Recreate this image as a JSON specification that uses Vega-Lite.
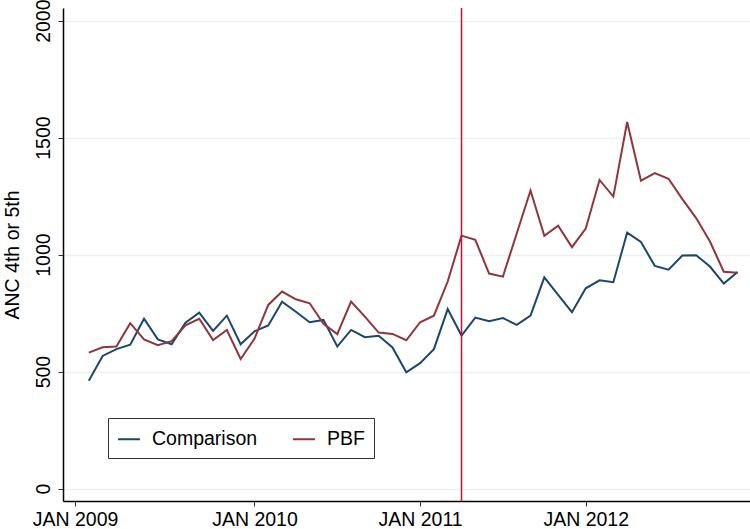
{
  "$schema": "https://vega.github.io/schema/vega-lite/v6.json",
  "width": 687,
  "height": 493,
  "autosize": {"type": "none"},
  "padding": {"left": 63, "top": 8, "right": 0, "bottom": 28},
  "background": "white",
  "config": {"view": {"stroke": null}, "font": "Liberation Sans"},
  "datasets": {
    "series": [
      {"month": 0, "group": "Comparison", "anc": 461}, {"month": 0, "group": "PBF", "anc": 581},
      {"month": 1, "group": "Comparison", "anc": 567}, {"month": 1, "group": "PBF", "anc": 604},
      {"month": 2, "group": "Comparison", "anc": 596}, {"month": 2, "group": "PBF", "anc": 607},
      {"month": 3, "group": "Comparison", "anc": 615}, {"month": 3, "group": "PBF", "anc": 707},
      {"month": 4, "group": "Comparison", "anc": 726}, {"month": 4, "group": "PBF", "anc": 638},
      {"month": 5, "group": "Comparison", "anc": 638}, {"month": 5, "group": "PBF", "anc": 613},
      {"month": 6, "group": "Comparison", "anc": 617}, {"month": 6, "group": "PBF", "anc": 630},
      {"month": 7, "group": "Comparison", "anc": 709}, {"month": 7, "group": "PBF", "anc": 698},
      {"month": 8, "group": "Comparison", "anc": 752}, {"month": 8, "group": "PBF", "anc": 726},
      {"month": 9, "group": "Comparison", "anc": 674}, {"month": 9, "group": "PBF", "anc": 635},
      {"month": 10, "group": "Comparison", "anc": 739}, {"month": 10, "group": "PBF", "anc": 678},
      {"month": 11, "group": "Comparison", "anc": 617}, {"month": 11, "group": "PBF", "anc": 554},
      {"month": 12, "group": "Comparison", "anc": 672}, {"month": 12, "group": "PBF", "anc": 640},
      {"month": 13, "group": "Comparison", "anc": 697}, {"month": 13, "group": "PBF", "anc": 785},
      {"month": 14, "group": "Comparison", "anc": 799}, {"month": 14, "group": "PBF", "anc": 842},
      {"month": 15, "group": "Comparison", "anc": 756}, {"month": 15, "group": "PBF", "anc": 809},
      {"month": 16, "group": "Comparison", "anc": 711}, {"month": 16, "group": "PBF", "anc": 792},
      {"month": 17, "group": "Comparison", "anc": 721}, {"month": 17, "group": "PBF", "anc": 704},
      {"month": 18, "group": "Comparison", "anc": 607}, {"month": 18, "group": "PBF", "anc": 660},
      {"month": 19, "group": "Comparison", "anc": 678}, {"month": 19, "group": "PBF", "anc": 799},
      {"month": 20, "group": "Comparison", "anc": 647}, {"month": 20, "group": "PBF", "anc": 735},
      {"month": 21, "group": "Comparison", "anc": 653}, {"month": 21, "group": "PBF", "anc": 667},
      {"month": 22, "group": "Comparison", "anc": 603}, {"month": 22, "group": "PBF", "anc": 661},
      {"month": 23, "group": "Comparison", "anc": 497}, {"month": 23, "group": "PBF", "anc": 634},
      {"month": 24, "group": "Comparison", "anc": 536}, {"month": 24, "group": "PBF", "anc": 711},
      {"month": 25, "group": "Comparison", "anc": 596}, {"month": 25, "group": "PBF", "anc": 739},
      {"month": 26, "group": "Comparison", "anc": 767}, {"month": 26, "group": "PBF", "anc": 885},
      {"month": 27, "group": "Comparison", "anc": 654}, {"month": 27, "group": "PBF", "anc": 1081},
      {"month": 28, "group": "Comparison", "anc": 731}, {"month": 28, "group": "PBF", "anc": 1063},
      {"month": 29, "group": "Comparison", "anc": 715}, {"month": 29, "group": "PBF", "anc": 919},
      {"month": 30, "group": "Comparison", "anc": 729}, {"month": 30, "group": "PBF", "anc": 906},
      {"month": 31, "group": "Comparison", "anc": 700}, {"month": 31, "group": "PBF", "anc": 1090},
      {"month": 32, "group": "Comparison", "anc": 739}, {"month": 32, "group": "PBF", "anc": 1274},
      {"month": 33, "group": "Comparison", "anc": 903}, {"month": 33, "group": "PBF", "anc": 1080},
      {"month": 34, "group": "Comparison", "anc": 828}, {"month": 34, "group": "PBF", "anc": 1124},
      {"month": 35, "group": "Comparison", "anc": 754}, {"month": 35, "group": "PBF", "anc": 1032},
      {"month": 36, "group": "Comparison", "anc": 856}, {"month": 36, "group": "PBF", "anc": 1111},
      {"month": 37, "group": "Comparison", "anc": 890}, {"month": 37, "group": "PBF", "anc": 1319},
      {"month": 38, "group": "Comparison", "anc": 882}, {"month": 38, "group": "PBF", "anc": 1248},
      {"month": 39, "group": "Comparison", "anc": 1094}, {"month": 39, "group": "PBF", "anc": 1567},
      {"month": 40, "group": "Comparison", "anc": 1054}, {"month": 40, "group": "PBF", "anc": 1316},
      {"month": 41, "group": "Comparison", "anc": 952}, {"month": 41, "group": "PBF", "anc": 1348},
      {"month": 42, "group": "Comparison", "anc": 936}, {"month": 42, "group": "PBF", "anc": 1324},
      {"month": 43, "group": "Comparison", "anc": 996}, {"month": 43, "group": "PBF", "anc": 1237},
      {"month": 44, "group": "Comparison", "anc": 997}, {"month": 44, "group": "PBF", "anc": 1156},
      {"month": 45, "group": "Comparison", "anc": 949}, {"month": 45, "group": "PBF", "anc": 1056},
      {"month": 46, "group": "Comparison", "anc": 876}, {"month": 46, "group": "PBF", "anc": 927},
      {"month": 47, "group": "Comparison", "anc": 926}, {"month": 47, "group": "PBF", "anc": 922}
    ],
    "intervention": [{"month": 27}]
  },
  "layer": [
    {
      "data": {"name": "series"},
      "mark": {"type": "line", "strokeWidth": 2},
      "encoding": {
        "x": {
          "field": "month", "type": "quantitative",
          "scale": {"domain": [-1.87, 47.9], "nice": false, "zero": false},
          "axis": {
            "title": null, "grid": false, "values": [-1, 12, 24, 36],
            "labelExpr": "datum.value == -1 ? 'JAN 2009' : datum.value == 12 ? 'JAN 2010' : datum.value == 24 ? 'JAN 2011' : 'JAN 2012'",
            "labelFontSize": 19.5, "labelColor": "#000", "labelPadding": 4,
            "domainColor": "#000", "domainWidth": 1.5, "tickColor": "#333", "tickSize": 5, "labelFlush": false
          }
        },
        "y": {
          "field": "anc", "type": "quantitative",
          "scale": {"domain": [-53, 2054], "nice": false, "zero": false},
          "axis": {
            "title": "ANC 4th or 5th", "titleFontSize": 19.5, "titleFontWeight": "normal", "titleColor": "#000", "titlePadding": 11,
            "values": [0, 500, 1000, 1500, 2000], "format": "d", "labelAngle": -90, "labelFontSize": 19.5, "labelColor": "#000", "labelPadding": 5,
            "domainColor": "#000", "domainWidth": 1.5, "tickColor": "#333", "tickSize": 5,
            "grid": true, "gridColor": "#eaf2f3", "gridWidth": 1.5
          }
        },
        "color": {
          "field": "group", "type": "nominal",
          "scale": {"domain": ["Comparison", "PBF"], "range": ["#1a476f", "#90353b"]},
          "legend": {
            "orient": "none", "legendX": 45, "legendY": 410, "direction": "horizontal", "title": null,
            "symbolType": "stroke", "symbolSize": 484, "symbolStrokeWidth": 2,
            "labelFontSize": 19.5, "labelColor": "#000", "strokeColor": "#333", "fillColor": "white",
            "padding": 9, "columnPadding": 31, "labelOffset": 11
          }
        }
      }
    },
    {
      "data": {"name": "intervention"},
      "mark": {"type": "rule", "color": "#c8102e", "strokeWidth": 1.5},
      "encoding": {"x": {"field": "month", "type": "quantitative"}}
    }
  ]
}
